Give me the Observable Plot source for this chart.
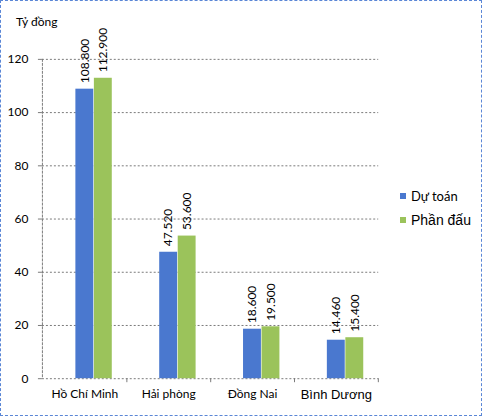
<!DOCTYPE html>
<html>
<head>
<meta charset="utf-8">
<script src="https://cdn.jsdelivr.net/npm/d3@7"></script>
<script src="https://cdn.jsdelivr.net/npm/@observablehq/plot@0.6"></script>
<style>
  body { margin: 0; background: #fff; }
  #wrap { position: relative; width: 482px; height: 416px; box-sizing: border-box; border: 1px dashed #5a86d6; overflow: hidden; }
  #chart { position: absolute; left: -1px; top: -1px; }
  #unit { position: absolute; left: 15px; top: 13px; font: 12px Lato, sans-serif; }
  #legend { position: absolute; left: 399px; top: 183px; }
  .key { height: 24px; display: flex; align-items: center; white-space: nowrap; }
  .sw { width: 6px; height: 6px; margin-right: 5px; }
</style>
</head>
<body>
<div id="wrap">
  <div id="chart"></div>
  <div id="unit">Tỷ đồng</div>
  <div id="legend"></div>
</div>
<script>
const categories = ["Hồ Chí Minh", "Hải phòng", "Đồng Nai", "Bình Dương"];
const duToan = [108.8, 47.52, 18.6, 14.46];
const phanDau = [112.9, 53.6, 19.5, 15.4];
const yTicks = [0, 20, 40, 60, 80, 100, 120];
const seriesNames = ["Dự toán", "Phần đấu"];
const seriesColors = ["#4a78cf", "#9bc35b"];

const data = categories.map((c, i) => ({category: c, duToan: duToan[i], phanDau: phanDau[i]}));
const fmt = d3.format(".3f");

// layout
const W = 482, H = 416, mL = 42, mR = 103;
const padIn = 0.34, padOut = 0.17;
const step = (W - mL - mR) / (categories.length - padIn + 2 * padOut);
const third = step * (1 - padIn) / 3;  // each band holds an empty slot, then the two bars

const grid = {stroke: "#7a7a7a", strokeDasharray: "2,2", strokeWidth: 1};

const chart = Plot.plot({
  width: W,
  height: H,
  marginLeft: mL,
  marginRight: mR,
  marginTop: 59,
  marginBottom: 37,
  style: {fontFamily: "Lato, sans-serif", fontSize: "12px", color: "#000", background: "transparent"},
  x: {domain: categories, paddingInner: padIn, paddingOuter: padOut, axis: null},
  y: {domain: [0, 120], axis: null},
  marks: [
    Plot.ruleY(yTicks, grid),
    Plot.frame({anchor: "left", ...grid}),
    Plot.barY(data, {x: "category", y: "duToan", fill: seriesColors[0], insetLeft: third, insetRight: third}),
    Plot.barY(data, {x: "category", y: "phanDau", fill: seriesColors[1], insetLeft: 2 * third}),
    Plot.text(data, {x: "category", y: "duToan", text: d => fmt(d.duToan), rotate: -90, textAnchor: "start", lineAnchor: "middle", dy: -6, fontSize: 12}),
    Plot.text(data, {x: "category", y: "phanDau", text: d => fmt(d.phanDau), rotate: -90, textAnchor: "start", lineAnchor: "middle", dx: third, dy: -6, fontSize: 12}),
    Plot.axisY({ticks: yTicks, tickSize: 4, tickPadding: 10, label: null, stroke: "#7a7a7a", fontSize: 12}),
    Plot.axisX({tickSize: 0, tickPadding: 11, label: null, fontSize: 12}),
    Plot.axisX({text: null, tickSize: 4, dx: step / 2, label: null, stroke: "#7a7a7a"})
  ]
});
d3.select("#chart").append(() => chart);

// last category label is in a different font in the original
d3.select(chart).selectAll("text")
  .filter(function() { return this.textContent === "Bình Dương"; })
  .style("font-family", "'Liberation Sans', Arial, sans-serif")
  .style("font-size", "13px");

const fonts = ["13px Lato, sans-serif", "14px 'Liberation Sans', Arial, sans-serif"];
const legend = d3.select("#legend").selectAll("div").data(seriesNames).join("div").attr("class", "key");
legend.append("span").attr("class", "sw").style("background", (d, i) => seriesColors[i]);
legend.append("span").style("font", (d, i) => fonts[i]).text(d => d);
</script>
</body>
</html>
